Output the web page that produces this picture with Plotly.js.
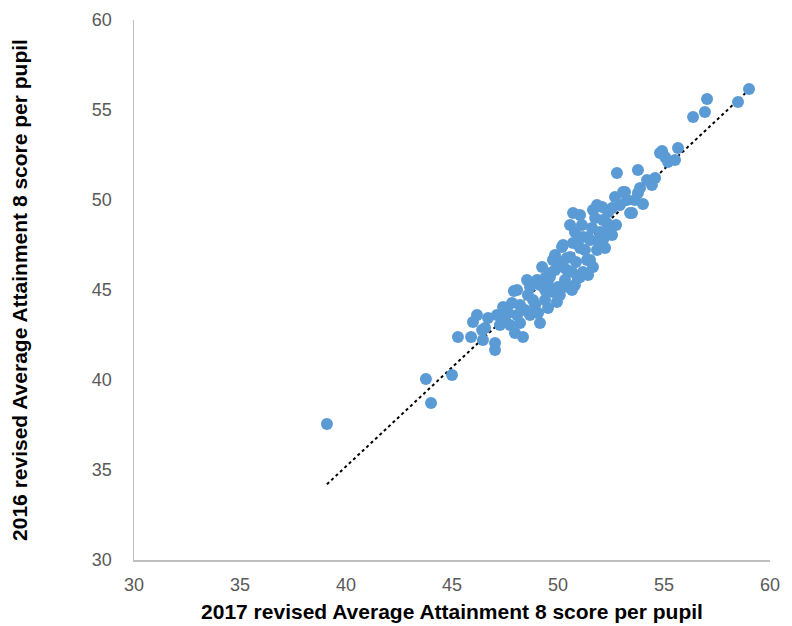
<!DOCTYPE html>
<html>
<head>
<meta charset="utf-8">
<script src="https://cdn.plot.ly/plotly-3.0.1.min.js"></script>
<style>html,body{margin:0;padding:0;background:#fff;}#chart{width:792px;height:626px;}</style>
</head>
<body>
<div id="chart"></div>
<script>
// 2017 revised Average Attainment 8 score per pupil (x) vs 2016 revised (y)
const score2017 = [
39.10,43.77,44.01,45.00,45.28,45.90,45.99,46.18,46.42,46.46,
47.03,47.03,47.12,47.41,47.64,47.83,47.92,47.97,48.35,48.21,
48.44,48.68,48.82,49.06,49.15,49.01,49.25,49.39,49.62,49.76,
49.95,50.00,50.19,50.24,50.33,50.47,50.66,50.42,50.71,50.80,
50.90,50.66,50.94,51.13,51.18,51.37,51.42,51.65,51.65,51.75,
51.84,51.98,52.08,52.22,52.31,52.45,52.55,52.69,52.78,53.07,
53.40,53.77,53.77,54.01,54.20,54.43,54.81,54.91,55.19,55.52,
55.66,56.37,56.93,57.03,58.49,59.01,48.54,48.07,49.62,51.04,
51.51,50.57,50.24,50.71,51.51,51.18,52.12,53.16,53.49,47.50,
47.74,48.92,49.39,49.53,49.86,50.09,49.76,49.53,48.58,48.21,
47.26,46.70,50.09,50.42,50.85,51.27,51.89,52.55,52.74,52.36,
51.84,52.92,53.25,53.63,54.58,55.05,53.87,50.57,51.04,49.39,
49.15,48.68,48.07,49.86,50.80,51.42,51.04,52.17,51.60,46.56
];
const score2016 = [
37.56,40.06,38.72,40.28,42.39,42.39,43.22,43.61,42.78,42.22,
42.06,41.67,43.61,44.06,43.72,44.28,44.94,42.61,42.39,43.17,
43.89,45.17,44.44,43.72,43.17,45.56,46.28,44.44,45.72,46.67,
44.33,45.17,47.39,46.28,45.56,45.17,45.00,46.78,49.28,48.22,
47.67,46.00,45.67,48.61,46.00,46.67,47.94,46.28,49.44,49.00,
47.22,48.22,49.61,47.33,48.72,48.33,49.56,50.17,51.50,50.44,
49.28,51.67,50.39,49.78,51.11,50.83,52.61,52.72,52.11,52.22,
52.89,54.61,54.89,55.61,55.44,56.17,45.56,45.00,45.94,45.72,
46.67,46.83,47.50,47.61,47.78,47.94,48.89,50.44,49.28,43.33,
43.06,44.17,45.00,45.28,46.11,46.56,44.89,44.00,44.72,44.17,
43.06,43.44,44.72,46.11,46.56,47.22,47.78,48.06,48.61,49.33,
49.72,49.72,50.00,50.00,51.22,52.39,50.67,48.61,47.33,45.67,
45.28,43.61,43.61,46.94,45.28,45.83,49.17,47.89,48.44,42.89
];

// least-squares linear trendline over the data
const n = score2017.length;
let sx=0, sy=0, sxx=0, sxy=0;
for (let i=0;i<n;i++){ sx+=score2017[i]; sy+=score2016[i]; sxx+=score2017[i]*score2017[i]; sxy+=score2017[i]*score2016[i]; }
const slope = (n*sxy - sx*sy)/(n*sxx - sx*sx);
const intercept = (sy - slope*sx)/n;
const xmin = Math.min(...score2017), xmax = Math.max(...score2017);
const trendX = [xmin, xmax];
const trendY = trendX.map(v => intercept + slope*v);

const tickVals = [30,35,40,45,50,55,60];

const data = [
  { x: trendX, y: trendY, type: 'scatter', mode: 'lines',
    line: { color: '#000000', width: 2, dash: 'dot' }, hoverinfo: 'skip' },
  { x: score2017, y: score2016, type: 'scatter', mode: 'markers',
    marker: { color: '#5B9BD5', size: 12 } }
];

const axisCommon = {
  range: [30, 60], tickvals: tickVals, showgrid: false, zeroline: false,
  showline: true, linecolor: '#BFBFBF', linewidth: 1.5, ticks: '',
  tickfont: { family: 'Liberation Sans, Arial, sans-serif', size: 18, color: '#595959' }
};

const layout = {
  width: 792, height: 626, showlegend: false,
  paper_bgcolor: '#ffffff', plot_bgcolor: '#ffffff',
  margin: { l: 134, r: 22, t: 20, b: 66 },
  xaxis: Object.assign({}, axisCommon, {
    ticklabelstandoff: 8,
    title: { text: '2017 revised Average Attainment 8 score per pupil', standoff: 10,
      font: { family: 'Liberation Sans, Arial, sans-serif', size: 21, color: '#000000', weight: 'bold' } }
  }),
  yaxis: Object.assign({}, axisCommon, {
    ticklabelstandoff: 17,
    title: { text: '2016 revised Average Attainment 8 score per pupil', standoff: 58,
      font: { family: 'Liberation Sans, Arial, sans-serif', size: 21, color: '#000000', weight: 'bold' } }
  })
};

Plotly.newPlot('chart', data, layout, { displayModeBar: false, staticPlot: true });
</script>
</body>
</html>
